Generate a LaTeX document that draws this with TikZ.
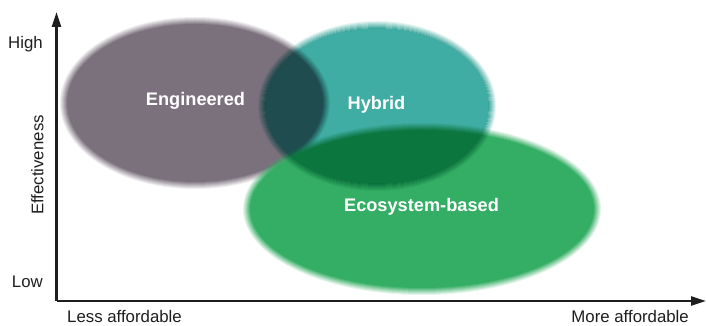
\documentclass[tikz,border=0pt]{standalone}
\usepackage{fontspec}
\setmainfont{Liberation Sans}
\usetikzlibrary{arrows.meta}
\definecolor{engineered}{HTML}{7B717D}
\definecolor{hybrid}{HTML}{3FADA3}
\definecolor{ecosystem}{HTML}{34AE64}
\definecolor{axisgrey}{HTML}{1E1E1E}
\tikzset{>=Triangle,
  axis/.style={draw=axisgrey, line width=2.3pt},
  tick/.style={text=axisgrey, font=\fontsize{16.8}{18}\selectfont, inner sep=0pt},
  blobname/.style={text=white, font=\bfseries\fontsize{18.2}{20}\selectfont, inner sep=0pt}}
% a blurred ellipse: colour, centre, x radius, y radius
\newcommand\softblob[4]{%
  \foreach \d/\a in {4/0.125,3/0.143,2/0.167,1/0.2,0/0.25,-1/0.333,-2/0.5,-3/1}
    \fill[#1, opacity=\a] #2 ellipse [x radius=#3+\d, y radius=#4+\d];}
% the same, multiplied onto what lies below, ring by ring
\newcommand\softmultiply[4]{%
  \foreach \d/\a in {4/0.125,3/0.25,2/0.375,1/0.5,0/0.625,-1/0.75,-2/0.875}
    \fill[#1, opacity=\a, blend mode=multiply, even odd rule]
      #2 ellipse [x radius=#3+\d, y radius=#4+\d]
      #2 ellipse [x radius=#3+\d-1, y radius=#4+\d-1];
  \fill[#1, blend mode=multiply] #2 ellipse [x radius=#3-3, y radius=#4-3];}

\begin{document}
\begin{tikzpicture}[x=1pt,y=1pt]
    \useasboundingbox (0,0) rectangle (706,326);
    % the three approaches
    \softblob{engineered}{(195,223)}{131}{82}
    \softblob{ecosystem}{(422,117)}{175}{82}
    \softmultiply{hybrid}{(377,220)}{115}{81}

    \node (eng) [blobname] at (195.5,225) {Engineered};
    \node (hyb) [blobname] at (376.5,221.5) {Hybrid};
    \node (eco) [blobname] at (421.5,119) {Ecosystem-based};

    % axes
    \coordinate (origin) at (56.5,25);
    \coordinate (ytop) at (56.5,314);
    \coordinate (xend) at (706,25);
    \draw[axis, -{Triangle[length=15pt,width=9pt]}] (origin) -- (ytop);
    \draw[axis, -{Triangle[length=15pt,width=9pt]}] (origin) -- (xend);

    \node (high) [tick, anchor=base east] at (43,277.7) {High};
    \node (low) [tick, anchor=base east] at (43,38.7) {Low};
    \node (eff) [tick, rotate=90, anchor=base] at (43.3,161) {Effectiveness};
    \node (less) [tick, anchor=base west] at (67,3.5) {Less affordable};
    \node (more) [tick, anchor=base east] at (689,3.5) {More affordable};
\end{tikzpicture}
\end{document}
